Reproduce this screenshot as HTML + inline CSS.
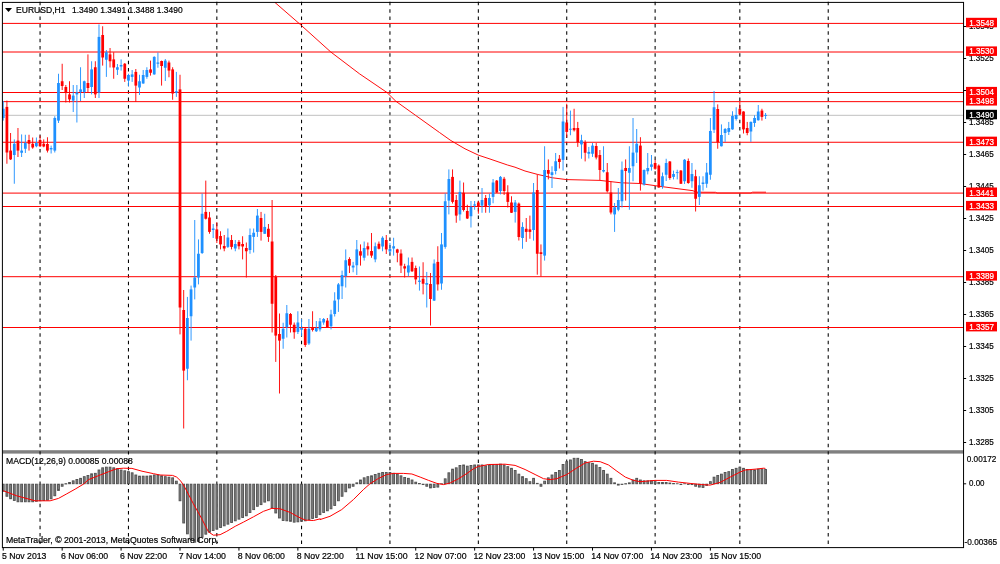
<!DOCTYPE html><html><head><meta charset="utf-8"><title>EURUSD,H1</title>
<style>html,body{margin:0;padding:0;background:#fff;overflow:hidden}svg{display:block}text{font-family:"Liberation Sans",sans-serif}</style></head><body>
<svg width="1000" height="564" viewBox="0 0 1000 564" style="will-change:transform">
<rect x="0" y="0" width="1000" height="564" fill="#fff"/>
<rect x="2.4" y="450.2" width="961.15" height="3.4" fill="#808080"/>
<g stroke="#000" stroke-width="1.05" stroke-dasharray="3.5 3.866" fill="none">
<path d="M40.06 1.8V454.6"/>
<path d="M40.06 459.43V547.6"/>
<path d="M128.45 1.8V454.6"/>
<path d="M128.45 459.43V547.6"/>
<path d="M216.84 1.8V454.6"/>
<path d="M216.84 459.43V547.6"/>
<path d="M301.55 1.8V454.6"/>
<path d="M301.55 459.43V547.6"/>
<path d="M389.94 1.8V454.6"/>
<path d="M389.94 459.43V547.6"/>
<path d="M478.34 1.8V454.6"/>
<path d="M478.34 459.43V547.6"/>
<path d="M566.73 1.8V454.6"/>
<path d="M566.73 459.43V547.6"/>
<path d="M655.12 1.8V454.6"/>
<path d="M655.12 459.43V547.6"/>
<path d="M739.83 1.8V454.6"/>
<path d="M739.83 459.43V547.6"/>
<path d="M828.22 1.8V454.6"/>
<path d="M828.22 459.43V547.6"/>
</g>
<path d="M2.4 115.3H963.55" stroke="#c0c0c0" stroke-width="1"/>
<g stroke="#ff0000" stroke-width="1">
<path d="M2.4 23.4H963.55"/>
<path d="M2.4 52.0H963.55"/>
<path d="M2.4 92.5H963.55"/>
<path d="M2.4 101.65H963.55"/>
<path d="M2.4 142.25H963.55"/>
<path d="M2.4 193.1H963.55"/>
<path d="M2.4 206.5H963.55"/>
<path d="M2.4 276.7H963.55"/>
<path d="M2.4 327.5H963.55"/>
</g>
<polyline fill="none" stroke="#ff0000" stroke-width="0.95" points="275.0,2.5 299.5,23.8 330.8,52.0 359.5,73.8 387.0,92.5 395.8,101.2 415.8,115.5 439.5,132.5 450.8,140.5 465.0,148.8 478.5,155.2 490.0,159.0 507.5,165.0 515.0,167.2 525.0,171.0 537.5,174.4 552.5,177.8 566.6,179.6 600.0,180.4 621.0,182.8 640.0,183.5 658.8,186.2 680.0,189.0 693.0,190.7 696.0,192.2 715.5,192.3 717.0,193.0 751.0,193.0 752.5,192.2 766.0,192.2"/>
<g fill="#1e90ff" stroke="none">
<rect x="2.77" y="101.00" width="0.92" height="19.60"/>
<rect x="1.85" y="108.75" width="2.76" height="9.25"/>
<rect x="13.82" y="139.40" width="0.92" height="44.35"/>
<rect x="12.90" y="143.75" width="2.76" height="11.25"/>
<rect x="21.18" y="134.40" width="0.92" height="22.60"/>
<rect x="20.26" y="150.60" width="2.76" height="2.15"/>
<rect x="24.87" y="134.75" width="0.92" height="18.25"/>
<rect x="23.95" y="143.00" width="2.76" height="5.75"/>
<rect x="35.92" y="137.50" width="0.92" height="9.75"/>
<rect x="35.00" y="143.00" width="2.76" height="3.25"/>
<rect x="50.65" y="145.60" width="0.92" height="7.90"/>
<rect x="49.73" y="148.00" width="2.76" height="1.40"/>
<rect x="54.33" y="116.25" width="0.92" height="36.25"/>
<rect x="53.41" y="118.00" width="2.76" height="32.60"/>
<rect x="58.01" y="73.75" width="0.92" height="49.25"/>
<rect x="57.09" y="83.00" width="2.76" height="37.60"/>
<rect x="72.75" y="85.00" width="0.92" height="27.00"/>
<rect x="71.83" y="95.60" width="2.76" height="5.00"/>
<rect x="76.43" y="85.00" width="0.92" height="37.50"/>
<rect x="75.51" y="92.50" width="2.76" height="1.90"/>
<rect x="80.11" y="67.25" width="0.92" height="33.75"/>
<rect x="79.19" y="89.40" width="2.76" height="2.50"/>
<rect x="83.80" y="80.60" width="0.92" height="17.40"/>
<rect x="82.87" y="81.25" width="2.76" height="10.75"/>
<rect x="91.16" y="61.25" width="0.92" height="33.15"/>
<rect x="90.24" y="69.40" width="2.76" height="17.60"/>
<rect x="98.53" y="24.40" width="0.92" height="73.60"/>
<rect x="97.61" y="36.90" width="2.76" height="55.60"/>
<rect x="105.89" y="50.00" width="0.92" height="26.90"/>
<rect x="104.97" y="52.25" width="2.76" height="7.50"/>
<rect x="116.94" y="64.00" width="0.92" height="11.00"/>
<rect x="116.02" y="67.25" width="2.76" height="2.50"/>
<rect x="120.63" y="59.40" width="0.92" height="11.20"/>
<rect x="119.70" y="65.00" width="2.76" height="1.50"/>
<rect x="127.99" y="73.75" width="0.92" height="12.50"/>
<rect x="127.07" y="75.00" width="2.76" height="5.60"/>
<rect x="131.67" y="70.00" width="0.92" height="11.90"/>
<rect x="130.75" y="74.40" width="2.76" height="2.50"/>
<rect x="139.04" y="74.75" width="0.92" height="20.25"/>
<rect x="138.12" y="81.25" width="2.76" height="6.25"/>
<rect x="142.72" y="70.00" width="0.92" height="13.75"/>
<rect x="141.80" y="75.00" width="2.76" height="8.50"/>
<rect x="146.41" y="67.25" width="0.92" height="11.50"/>
<rect x="145.49" y="70.00" width="2.76" height="6.90"/>
<rect x="153.77" y="56.25" width="0.92" height="18.50"/>
<rect x="152.85" y="56.90" width="2.76" height="17.50"/>
<rect x="157.46" y="52.50" width="0.92" height="15.25"/>
<rect x="156.53" y="62.50" width="2.76" height="1.25"/>
<rect x="164.82" y="59.00" width="0.92" height="22.00"/>
<rect x="163.90" y="60.60" width="2.76" height="7.15"/>
<rect x="175.87" y="71.90" width="0.92" height="25.00"/>
<rect x="174.95" y="91.25" width="2.76" height="1.50"/>
<rect x="186.92" y="296.90" width="0.92" height="83.35"/>
<rect x="186.00" y="318.00" width="2.76" height="50.75"/>
<rect x="190.60" y="285.60" width="0.92" height="55.00"/>
<rect x="189.68" y="289.40" width="2.76" height="26.85"/>
<rect x="194.29" y="220.00" width="0.92" height="79.40"/>
<rect x="193.36" y="277.50" width="2.76" height="10.00"/>
<rect x="197.97" y="239.40" width="0.92" height="45.00"/>
<rect x="197.05" y="253.75" width="2.76" height="23.75"/>
<rect x="201.65" y="193.50" width="0.92" height="60.50"/>
<rect x="200.73" y="213.75" width="2.76" height="39.25"/>
<rect x="212.70" y="224.00" width="0.92" height="14.00"/>
<rect x="211.78" y="228.50" width="2.76" height="1.50"/>
<rect x="227.43" y="228.50" width="0.92" height="19.50"/>
<rect x="226.51" y="237.50" width="2.76" height="9.40"/>
<rect x="234.80" y="240.00" width="0.92" height="11.25"/>
<rect x="233.88" y="244.00" width="2.76" height="4.50"/>
<rect x="249.53" y="228.50" width="0.92" height="25.25"/>
<rect x="248.61" y="235.00" width="2.76" height="15.00"/>
<rect x="253.21" y="228.50" width="0.92" height="24.00"/>
<rect x="252.29" y="232.75" width="2.76" height="4.15"/>
<rect x="256.90" y="209.00" width="0.92" height="27.90"/>
<rect x="255.98" y="215.60" width="2.76" height="16.30"/>
<rect x="264.26" y="213.75" width="0.92" height="20.25"/>
<rect x="263.34" y="226.90" width="2.76" height="6.85"/>
<rect x="282.68" y="322.75" width="0.92" height="26.00"/>
<rect x="281.76" y="328.75" width="2.76" height="10.00"/>
<rect x="286.36" y="305.00" width="0.92" height="32.50"/>
<rect x="285.44" y="313.25" width="2.76" height="13.95"/>
<rect x="297.41" y="311.25" width="0.92" height="22.75"/>
<rect x="296.49" y="322.50" width="2.76" height="9.40"/>
<rect x="301.09" y="319.00" width="0.92" height="17.25"/>
<rect x="300.17" y="328.00" width="2.76" height="1.75"/>
<rect x="308.46" y="319.00" width="0.92" height="26.00"/>
<rect x="307.54" y="328.75" width="2.76" height="14.75"/>
<rect x="315.82" y="321.00" width="0.92" height="11.00"/>
<rect x="314.90" y="328.00" width="2.76" height="3.25"/>
<rect x="319.51" y="318.00" width="0.92" height="13.50"/>
<rect x="318.59" y="321.25" width="2.76" height="8.15"/>
<rect x="323.19" y="318.00" width="0.92" height="6.75"/>
<rect x="322.27" y="319.00" width="2.76" height="3.50"/>
<rect x="330.56" y="309.75" width="0.92" height="19.65"/>
<rect x="329.64" y="314.40" width="2.76" height="11.85"/>
<rect x="334.24" y="292.25" width="0.92" height="24.25"/>
<rect x="333.32" y="300.60" width="2.76" height="13.40"/>
<rect x="337.92" y="283.00" width="0.92" height="28.90"/>
<rect x="337.00" y="284.40" width="2.76" height="15.00"/>
<rect x="341.61" y="270.60" width="0.92" height="28.40"/>
<rect x="340.68" y="275.00" width="2.76" height="11.25"/>
<rect x="345.29" y="249.40" width="0.92" height="38.10"/>
<rect x="344.37" y="260.25" width="2.76" height="15.75"/>
<rect x="352.65" y="261.90" width="0.92" height="10.35"/>
<rect x="351.73" y="265.60" width="2.76" height="1.90"/>
<rect x="356.34" y="240.00" width="0.92" height="35.00"/>
<rect x="355.42" y="249.40" width="2.76" height="15.85"/>
<rect x="363.70" y="241.50" width="0.92" height="19.10"/>
<rect x="362.78" y="248.00" width="2.76" height="9.75"/>
<rect x="374.75" y="242.50" width="0.92" height="19.75"/>
<rect x="373.83" y="246.25" width="2.76" height="13.15"/>
<rect x="382.12" y="236.25" width="0.92" height="15.00"/>
<rect x="381.20" y="237.75" width="2.76" height="8.75"/>
<rect x="389.48" y="243.00" width="0.92" height="11.40"/>
<rect x="388.56" y="249.00" width="2.76" height="2.50"/>
<rect x="393.17" y="237.75" width="0.92" height="17.85"/>
<rect x="392.25" y="246.25" width="2.76" height="2.25"/>
<rect x="407.90" y="257.50" width="0.92" height="18.75"/>
<rect x="406.98" y="265.40" width="2.76" height="7.10"/>
<rect x="418.95" y="266.50" width="0.92" height="24.10"/>
<rect x="418.03" y="280.60" width="2.76" height="1.30"/>
<rect x="426.31" y="271.90" width="0.92" height="35.60"/>
<rect x="425.39" y="283.00" width="2.76" height="1.75"/>
<rect x="433.68" y="259.40" width="0.92" height="41.60"/>
<rect x="432.76" y="263.50" width="2.76" height="37.10"/>
<rect x="441.05" y="233.00" width="0.92" height="56.75"/>
<rect x="440.13" y="244.40" width="2.76" height="39.10"/>
<rect x="444.73" y="193.40" width="0.92" height="55.35"/>
<rect x="443.81" y="201.25" width="2.76" height="45.65"/>
<rect x="448.41" y="169.40" width="0.92" height="45.00"/>
<rect x="447.49" y="179.00" width="2.76" height="21.60"/>
<rect x="459.46" y="180.60" width="0.92" height="40.00"/>
<rect x="458.54" y="191.90" width="2.76" height="22.50"/>
<rect x="470.51" y="201.00" width="0.92" height="26.50"/>
<rect x="469.59" y="206.90" width="2.76" height="9.35"/>
<rect x="474.19" y="201.00" width="0.92" height="8.75"/>
<rect x="473.27" y="204.40" width="2.76" height="1.20"/>
<rect x="481.56" y="188.00" width="0.92" height="24.75"/>
<rect x="480.64" y="200.00" width="2.76" height="5.60"/>
<rect x="488.93" y="193.75" width="0.92" height="19.00"/>
<rect x="488.00" y="198.00" width="2.76" height="7.25"/>
<rect x="492.61" y="179.00" width="0.92" height="24.25"/>
<rect x="491.69" y="182.50" width="2.76" height="14.40"/>
<rect x="499.97" y="176.00" width="0.92" height="18.40"/>
<rect x="499.05" y="176.90" width="2.76" height="14.10"/>
<rect x="514.71" y="200.00" width="0.92" height="22.60"/>
<rect x="513.79" y="202.50" width="2.76" height="9.40"/>
<rect x="522.07" y="222.25" width="0.92" height="26.50"/>
<rect x="521.15" y="226.90" width="2.76" height="11.10"/>
<rect x="533.12" y="183.00" width="0.92" height="57.60"/>
<rect x="532.20" y="192.50" width="2.76" height="37.50"/>
<rect x="544.17" y="146.25" width="0.92" height="114.35"/>
<rect x="543.25" y="170.00" width="2.76" height="85.60"/>
<rect x="551.54" y="166.25" width="0.92" height="21.75"/>
<rect x="550.62" y="172.25" width="2.76" height="2.75"/>
<rect x="555.22" y="153.00" width="0.92" height="21.40"/>
<rect x="554.30" y="161.25" width="2.76" height="9.75"/>
<rect x="562.59" y="106.90" width="0.92" height="63.70"/>
<rect x="561.66" y="121.50" width="2.76" height="38.40"/>
<rect x="569.95" y="110.60" width="0.92" height="24.65"/>
<rect x="569.03" y="128.75" width="2.76" height="1.00"/>
<rect x="581.00" y="134.75" width="0.92" height="24.00"/>
<rect x="580.08" y="140.25" width="2.76" height="4.15"/>
<rect x="588.37" y="146.90" width="0.92" height="11.60"/>
<rect x="587.45" y="151.90" width="2.76" height="1.85"/>
<rect x="592.05" y="143.00" width="0.92" height="13.90"/>
<rect x="591.13" y="145.60" width="2.76" height="8.15"/>
<rect x="603.10" y="146.25" width="0.92" height="26.25"/>
<rect x="602.18" y="170.00" width="2.76" height="1.50"/>
<rect x="614.15" y="203.00" width="0.92" height="28.90"/>
<rect x="613.23" y="207.25" width="2.76" height="7.15"/>
<rect x="617.83" y="188.00" width="0.92" height="23.25"/>
<rect x="616.91" y="200.00" width="2.76" height="9.75"/>
<rect x="621.51" y="161.50" width="0.92" height="46.00"/>
<rect x="620.59" y="169.75" width="2.76" height="31.50"/>
<rect x="628.88" y="146.25" width="0.92" height="63.50"/>
<rect x="627.96" y="168.00" width="2.76" height="4.75"/>
<rect x="632.56" y="118.00" width="0.92" height="63.25"/>
<rect x="631.64" y="152.60" width="2.76" height="13.65"/>
<rect x="636.25" y="129.00" width="0.92" height="34.00"/>
<rect x="635.32" y="143.75" width="2.76" height="8.75"/>
<rect x="643.61" y="169.40" width="0.92" height="16.20"/>
<rect x="642.69" y="170.00" width="2.76" height="14.40"/>
<rect x="647.29" y="153.00" width="0.92" height="21.40"/>
<rect x="646.37" y="168.00" width="2.76" height="3.25"/>
<rect x="650.98" y="155.00" width="0.92" height="15.60"/>
<rect x="650.06" y="164.40" width="2.76" height="2.50"/>
<rect x="662.03" y="172.50" width="0.92" height="16.25"/>
<rect x="661.11" y="176.25" width="2.76" height="10.00"/>
<rect x="665.71" y="158.75" width="0.92" height="22.25"/>
<rect x="664.79" y="163.00" width="2.76" height="11.75"/>
<rect x="673.08" y="170.60" width="0.92" height="8.80"/>
<rect x="672.15" y="174.00" width="2.76" height="2.90"/>
<rect x="676.76" y="169.75" width="0.92" height="9.65"/>
<rect x="675.84" y="172.16" width="2.76" height="0.92"/>
<rect x="684.12" y="159.00" width="0.92" height="25.00"/>
<rect x="683.20" y="159.75" width="2.76" height="21.50"/>
<rect x="691.49" y="163.00" width="0.92" height="24.75"/>
<rect x="690.57" y="174.00" width="2.76" height="7.25"/>
<rect x="698.86" y="176.25" width="0.92" height="28.75"/>
<rect x="697.94" y="185.25" width="2.76" height="11.65"/>
<rect x="702.54" y="176.25" width="0.92" height="14.35"/>
<rect x="701.62" y="182.50" width="2.76" height="1.50"/>
<rect x="706.22" y="163.00" width="0.92" height="24.75"/>
<rect x="705.30" y="172.50" width="2.76" height="11.25"/>
<rect x="709.91" y="118.00" width="0.92" height="61.75"/>
<rect x="708.98" y="131.00" width="2.76" height="43.75"/>
<rect x="713.59" y="91.00" width="0.92" height="42.00"/>
<rect x="712.67" y="107.25" width="2.76" height="22.50"/>
<rect x="720.95" y="124.40" width="0.92" height="22.10"/>
<rect x="720.03" y="135.00" width="2.76" height="11.25"/>
<rect x="724.64" y="128.00" width="0.92" height="13.90"/>
<rect x="723.72" y="129.00" width="2.76" height="4.00"/>
<rect x="728.32" y="121.90" width="0.92" height="13.10"/>
<rect x="727.40" y="128.00" width="2.76" height="3.90"/>
<rect x="732.00" y="111.25" width="0.92" height="18.50"/>
<rect x="731.08" y="116.00" width="2.76" height="13.40"/>
<rect x="735.69" y="107.25" width="0.92" height="13.35"/>
<rect x="734.77" y="115.00" width="2.76" height="4.00"/>
<rect x="750.42" y="121.50" width="0.92" height="20.40"/>
<rect x="749.50" y="121.90" width="2.76" height="9.60"/>
<rect x="754.10" y="115.25" width="0.92" height="11.65"/>
<rect x="753.18" y="118.00" width="2.76" height="5.00"/>
<rect x="757.78" y="105.00" width="0.92" height="15.60"/>
<rect x="756.86" y="111.50" width="2.76" height="8.75"/>
<rect x="765.15" y="113.00" width="0.92" height="6.00"/>
<rect x="764.23" y="114.94" width="2.76" height="0.92"/>
</g>
<g fill="#ff0000" stroke="none">
<rect x="6.45" y="100.60" width="0.92" height="63.15"/>
<rect x="5.53" y="106.90" width="2.76" height="45.60"/>
<rect x="10.14" y="133.00" width="0.92" height="27.00"/>
<rect x="9.21" y="150.60" width="2.76" height="8.80"/>
<rect x="17.50" y="128.00" width="0.92" height="29.00"/>
<rect x="16.58" y="140.60" width="2.76" height="10.00"/>
<rect x="28.55" y="134.75" width="0.92" height="15.85"/>
<rect x="27.63" y="140.00" width="2.76" height="3.75"/>
<rect x="32.23" y="137.50" width="0.92" height="11.25"/>
<rect x="31.31" y="143.75" width="2.76" height="3.75"/>
<rect x="39.60" y="135.60" width="0.92" height="11.40"/>
<rect x="38.68" y="140.00" width="2.76" height="6.25"/>
<rect x="43.28" y="139.40" width="0.92" height="7.85"/>
<rect x="42.36" y="143.75" width="2.76" height="2.75"/>
<rect x="46.97" y="137.25" width="0.92" height="15.25"/>
<rect x="46.04" y="144.00" width="2.76" height="6.60"/>
<rect x="61.70" y="63.75" width="0.92" height="26.25"/>
<rect x="60.78" y="81.25" width="2.76" height="4.75"/>
<rect x="65.38" y="85.00" width="0.92" height="17.50"/>
<rect x="64.46" y="87.00" width="2.76" height="6.00"/>
<rect x="69.06" y="81.25" width="0.92" height="21.25"/>
<rect x="68.14" y="94.40" width="2.76" height="5.00"/>
<rect x="87.48" y="54.40" width="0.92" height="37.60"/>
<rect x="86.56" y="83.00" width="2.76" height="5.00"/>
<rect x="94.84" y="61.25" width="0.92" height="36.75"/>
<rect x="93.92" y="67.25" width="2.76" height="27.15"/>
<rect x="102.21" y="26.25" width="0.92" height="39.35"/>
<rect x="101.29" y="35.00" width="2.76" height="22.50"/>
<rect x="109.58" y="48.00" width="0.92" height="19.50"/>
<rect x="108.66" y="54.40" width="2.76" height="6.85"/>
<rect x="113.26" y="52.25" width="0.92" height="26.50"/>
<rect x="112.34" y="59.40" width="2.76" height="8.10"/>
<rect x="124.31" y="63.00" width="0.92" height="18.90"/>
<rect x="123.39" y="63.75" width="2.76" height="15.00"/>
<rect x="135.36" y="69.00" width="0.92" height="32.90"/>
<rect x="134.44" y="71.90" width="2.76" height="13.70"/>
<rect x="150.09" y="60.60" width="0.92" height="15.00"/>
<rect x="149.17" y="69.40" width="2.76" height="3.35"/>
<rect x="161.14" y="60.60" width="0.92" height="25.00"/>
<rect x="160.22" y="61.00" width="2.76" height="5.00"/>
<rect x="168.50" y="60.60" width="0.92" height="16.65"/>
<rect x="167.58" y="62.50" width="2.76" height="8.10"/>
<rect x="172.19" y="67.25" width="0.92" height="32.50"/>
<rect x="171.27" y="69.40" width="2.76" height="24.10"/>
<rect x="179.55" y="74.75" width="0.92" height="259.65"/>
<rect x="178.63" y="89.40" width="2.76" height="218.10"/>
<rect x="183.24" y="290.00" width="0.92" height="138.50"/>
<rect x="182.32" y="310.00" width="2.76" height="60.60"/>
<rect x="205.33" y="180.60" width="0.92" height="38.90"/>
<rect x="204.41" y="211.90" width="2.76" height="6.85"/>
<rect x="209.02" y="211.90" width="0.92" height="21.85"/>
<rect x="208.10" y="217.50" width="2.76" height="14.40"/>
<rect x="216.38" y="222.25" width="0.92" height="20.75"/>
<rect x="215.46" y="229.40" width="2.76" height="9.35"/>
<rect x="220.07" y="231.25" width="0.92" height="18.15"/>
<rect x="219.15" y="236.00" width="2.76" height="8.40"/>
<rect x="223.75" y="235.00" width="0.92" height="16.25"/>
<rect x="222.83" y="246.00" width="2.76" height="2.50"/>
<rect x="231.12" y="235.00" width="0.92" height="14.40"/>
<rect x="230.19" y="240.00" width="2.76" height="6.90"/>
<rect x="238.48" y="240.00" width="0.92" height="9.40"/>
<rect x="237.56" y="241.90" width="2.76" height="4.35"/>
<rect x="242.16" y="236.25" width="0.92" height="23.15"/>
<rect x="241.24" y="244.00" width="2.76" height="2.50"/>
<rect x="245.85" y="242.50" width="0.92" height="35.00"/>
<rect x="244.93" y="248.00" width="2.76" height="3.25"/>
<rect x="260.58" y="211.90" width="0.92" height="28.70"/>
<rect x="259.66" y="218.00" width="2.76" height="13.90"/>
<rect x="267.95" y="224.00" width="0.92" height="17.90"/>
<rect x="267.02" y="228.75" width="2.76" height="8.15"/>
<rect x="271.63" y="200.00" width="0.92" height="132.50"/>
<rect x="270.71" y="241.50" width="2.76" height="62.25"/>
<rect x="275.31" y="275.00" width="0.92" height="86.90"/>
<rect x="274.39" y="276.90" width="2.76" height="58.70"/>
<rect x="278.99" y="313.50" width="0.92" height="80.00"/>
<rect x="278.07" y="334.00" width="2.76" height="6.60"/>
<rect x="290.04" y="313.00" width="0.92" height="19.50"/>
<rect x="289.12" y="314.00" width="2.76" height="10.75"/>
<rect x="293.73" y="322.50" width="0.92" height="16.25"/>
<rect x="292.81" y="324.75" width="2.76" height="7.50"/>
<rect x="304.78" y="328.00" width="0.92" height="18.90"/>
<rect x="303.85" y="328.75" width="2.76" height="16.25"/>
<rect x="312.14" y="311.25" width="0.92" height="20.25"/>
<rect x="311.22" y="327.50" width="2.76" height="2.50"/>
<rect x="326.87" y="318.00" width="0.92" height="9.50"/>
<rect x="325.95" y="320.60" width="2.76" height="6.65"/>
<rect x="348.97" y="257.25" width="0.92" height="15.75"/>
<rect x="348.05" y="259.00" width="2.76" height="6.60"/>
<rect x="360.02" y="244.40" width="0.92" height="21.20"/>
<rect x="359.10" y="251.25" width="2.76" height="4.35"/>
<rect x="367.39" y="242.50" width="0.92" height="13.10"/>
<rect x="366.47" y="246.25" width="2.76" height="3.15"/>
<rect x="371.07" y="233.00" width="0.92" height="24.75"/>
<rect x="370.15" y="251.00" width="2.76" height="4.60"/>
<rect x="378.44" y="241.50" width="0.92" height="7.90"/>
<rect x="377.51" y="243.75" width="2.76" height="5.00"/>
<rect x="385.80" y="235.00" width="0.92" height="19.00"/>
<rect x="384.88" y="240.00" width="2.76" height="9.40"/>
<rect x="396.85" y="248.75" width="0.92" height="13.50"/>
<rect x="395.93" y="249.40" width="2.76" height="3.35"/>
<rect x="400.53" y="249.40" width="0.92" height="23.60"/>
<rect x="399.61" y="253.50" width="2.76" height="12.10"/>
<rect x="404.22" y="263.75" width="0.92" height="13.75"/>
<rect x="403.30" y="266.25" width="2.76" height="2.25"/>
<rect x="411.58" y="257.50" width="0.92" height="14.50"/>
<rect x="410.66" y="261.90" width="2.76" height="9.35"/>
<rect x="415.27" y="265.60" width="0.92" height="18.80"/>
<rect x="414.34" y="268.00" width="2.76" height="11.40"/>
<rect x="422.63" y="262.25" width="0.92" height="32.15"/>
<rect x="421.71" y="278.75" width="2.76" height="5.00"/>
<rect x="430.00" y="273.00" width="0.92" height="52.50"/>
<rect x="429.08" y="284.00" width="2.76" height="15.00"/>
<rect x="437.36" y="246.25" width="0.92" height="44.35"/>
<rect x="436.44" y="261.90" width="2.76" height="22.50"/>
<rect x="452.10" y="169.40" width="0.92" height="34.10"/>
<rect x="451.17" y="176.90" width="2.76" height="25.00"/>
<rect x="455.78" y="195.00" width="0.92" height="27.75"/>
<rect x="454.86" y="200.00" width="2.76" height="15.60"/>
<rect x="463.14" y="182.50" width="0.92" height="29.00"/>
<rect x="462.22" y="192.75" width="2.76" height="17.25"/>
<rect x="466.83" y="204.75" width="0.92" height="14.25"/>
<rect x="465.91" y="211.00" width="2.76" height="7.50"/>
<rect x="477.88" y="201.00" width="0.92" height="12.75"/>
<rect x="476.96" y="202.50" width="2.76" height="4.40"/>
<rect x="485.24" y="195.00" width="0.92" height="17.75"/>
<rect x="484.32" y="198.00" width="2.76" height="8.00"/>
<rect x="496.29" y="180.00" width="0.92" height="13.00"/>
<rect x="495.37" y="180.60" width="2.76" height="11.90"/>
<rect x="503.66" y="176.90" width="0.92" height="18.10"/>
<rect x="502.74" y="178.75" width="2.76" height="12.25"/>
<rect x="507.34" y="185.25" width="0.92" height="22.25"/>
<rect x="506.42" y="192.50" width="2.76" height="9.40"/>
<rect x="511.02" y="196.25" width="0.92" height="16.75"/>
<rect x="510.10" y="202.50" width="2.76" height="10.25"/>
<rect x="518.39" y="202.50" width="0.92" height="38.00"/>
<rect x="517.47" y="203.60" width="2.76" height="33.40"/>
<rect x="525.76" y="218.00" width="0.92" height="23.90"/>
<rect x="524.83" y="228.75" width="2.76" height="3.15"/>
<rect x="529.44" y="215.60" width="0.92" height="23.15"/>
<rect x="528.52" y="229.40" width="2.76" height="2.50"/>
<rect x="536.80" y="174.40" width="0.92" height="100.30"/>
<rect x="535.88" y="190.00" width="2.76" height="63.75"/>
<rect x="540.49" y="244.40" width="0.92" height="32.10"/>
<rect x="539.57" y="252.25" width="2.76" height="1.75"/>
<rect x="547.85" y="159.40" width="0.92" height="20.00"/>
<rect x="546.93" y="170.00" width="2.76" height="3.75"/>
<rect x="558.90" y="155.00" width="0.92" height="13.50"/>
<rect x="557.98" y="158.75" width="2.76" height="3.25"/>
<rect x="566.27" y="103.75" width="0.92" height="33.75"/>
<rect x="565.35" y="122.50" width="2.76" height="9.40"/>
<rect x="573.63" y="108.75" width="0.92" height="22.75"/>
<rect x="572.71" y="128.00" width="2.76" height="2.25"/>
<rect x="577.32" y="121.90" width="0.92" height="25.00"/>
<rect x="576.40" y="128.00" width="2.76" height="14.25"/>
<rect x="584.68" y="140.25" width="0.92" height="21.15"/>
<rect x="583.76" y="142.25" width="2.76" height="10.50"/>
<rect x="595.73" y="143.00" width="0.92" height="16.40"/>
<rect x="594.81" y="146.00" width="2.76" height="11.50"/>
<rect x="599.42" y="150.00" width="0.92" height="30.00"/>
<rect x="598.49" y="155.00" width="2.76" height="15.00"/>
<rect x="606.78" y="163.00" width="0.92" height="29.50"/>
<rect x="605.86" y="172.25" width="2.76" height="19.00"/>
<rect x="610.46" y="181.25" width="0.92" height="33.15"/>
<rect x="609.54" y="192.50" width="2.76" height="20.00"/>
<rect x="625.20" y="159.40" width="0.92" height="41.20"/>
<rect x="624.28" y="168.00" width="2.76" height="3.00"/>
<rect x="639.93" y="137.20" width="0.92" height="53.40"/>
<rect x="639.01" y="145.60" width="2.76" height="37.90"/>
<rect x="654.66" y="159.75" width="0.92" height="10.00"/>
<rect x="653.74" y="163.00" width="2.76" height="5.75"/>
<rect x="658.34" y="164.40" width="0.92" height="23.35"/>
<rect x="657.42" y="165.60" width="2.76" height="21.90"/>
<rect x="669.39" y="161.00" width="0.92" height="18.75"/>
<rect x="668.47" y="161.50" width="2.76" height="16.50"/>
<rect x="680.44" y="170.00" width="0.92" height="14.00"/>
<rect x="679.52" y="170.60" width="2.76" height="13.15"/>
<rect x="687.81" y="158.50" width="0.92" height="25.25"/>
<rect x="686.89" y="161.00" width="2.76" height="22.00"/>
<rect x="695.17" y="169.75" width="0.92" height="41.75"/>
<rect x="694.25" y="176.25" width="2.76" height="22.50"/>
<rect x="717.27" y="104.40" width="0.92" height="44.35"/>
<rect x="716.35" y="109.00" width="2.76" height="33.25"/>
<rect x="739.37" y="101.90" width="0.92" height="12.85"/>
<rect x="738.45" y="108.75" width="2.76" height="5.65"/>
<rect x="743.05" y="111.25" width="0.92" height="22.25"/>
<rect x="742.13" y="111.50" width="2.76" height="17.90"/>
<rect x="746.74" y="121.90" width="0.92" height="13.35"/>
<rect x="745.81" y="128.00" width="2.76" height="5.00"/>
<rect x="761.47" y="108.75" width="0.92" height="11.85"/>
<rect x="760.55" y="110.60" width="2.76" height="6.30"/>
</g>
<g fill="#808080" stroke="#505050" stroke-width="0.92">
<rect x="2.31" y="484.19" width="1.84" height="7.06"/>
<rect x="5.99" y="484.19" width="1.84" height="12.07"/>
<rect x="9.68" y="484.19" width="1.84" height="14.57"/>
<rect x="13.36" y="484.19" width="1.84" height="16.24"/>
<rect x="17.04" y="484.19" width="1.84" height="17.58"/>
<rect x="20.72" y="484.19" width="1.84" height="17.58"/>
<rect x="24.41" y="484.19" width="1.84" height="17.58"/>
<rect x="28.09" y="484.19" width="1.84" height="17.58"/>
<rect x="31.77" y="484.19" width="1.84" height="17.58"/>
<rect x="35.46" y="484.19" width="1.84" height="17.08"/>
<rect x="39.14" y="484.19" width="1.84" height="16.57"/>
<rect x="42.82" y="484.19" width="1.84" height="16.24"/>
<rect x="46.51" y="484.19" width="1.84" height="15.91"/>
<rect x="50.19" y="484.19" width="1.84" height="14.57"/>
<rect x="53.87" y="484.19" width="1.84" height="11.56"/>
<rect x="57.55" y="484.19" width="1.84" height="6.22"/>
<rect x="61.24" y="484.19" width="1.84" height="2.05"/>
<rect x="64.92" y="483.69" width="1.84" height="0.30"/>
<rect x="68.60" y="482.52" width="1.84" height="1.21"/>
<rect x="72.29" y="480.85" width="1.84" height="2.88"/>
<rect x="75.97" y="479.51" width="1.84" height="4.22"/>
<rect x="79.65" y="478.35" width="1.84" height="5.39"/>
<rect x="83.34" y="476.68" width="1.84" height="7.06"/>
<rect x="87.02" y="475.51" width="1.84" height="8.22"/>
<rect x="90.70" y="473.84" width="1.84" height="9.89"/>
<rect x="94.38" y="473.34" width="1.84" height="10.40"/>
<rect x="98.07" y="470.00" width="1.84" height="13.74"/>
<rect x="101.75" y="467.82" width="1.84" height="15.91"/>
<rect x="105.43" y="467.16" width="1.84" height="16.57"/>
<rect x="109.12" y="467.16" width="1.84" height="16.57"/>
<rect x="112.80" y="467.82" width="1.84" height="15.91"/>
<rect x="116.48" y="468.83" width="1.84" height="14.90"/>
<rect x="120.17" y="470.00" width="1.84" height="13.74"/>
<rect x="123.85" y="470.83" width="1.84" height="12.90"/>
<rect x="127.53" y="471.67" width="1.84" height="12.07"/>
<rect x="131.22" y="472.83" width="1.84" height="10.90"/>
<rect x="134.90" y="475.01" width="1.84" height="8.73"/>
<rect x="138.58" y="476.17" width="1.84" height="7.56"/>
<rect x="142.26" y="476.17" width="1.84" height="7.56"/>
<rect x="145.95" y="476.17" width="1.84" height="7.56"/>
<rect x="149.63" y="475.84" width="1.84" height="7.89"/>
<rect x="153.31" y="475.01" width="1.84" height="8.73"/>
<rect x="157.00" y="475.01" width="1.84" height="8.73"/>
<rect x="160.68" y="475.84" width="1.84" height="7.89"/>
<rect x="164.36" y="476.68" width="1.84" height="7.06"/>
<rect x="168.04" y="477.18" width="1.84" height="6.55"/>
<rect x="171.73" y="477.84" width="1.84" height="5.89"/>
<rect x="175.41" y="481.18" width="1.84" height="2.55"/>
<rect x="179.09" y="484.19" width="1.84" height="16.57"/>
<rect x="182.78" y="484.19" width="1.84" height="38.79"/>
<rect x="186.46" y="484.19" width="1.84" height="49.64"/>
<rect x="190.14" y="484.19" width="1.84" height="55.49"/>
<rect x="193.83" y="484.19" width="1.84" height="57.99"/>
<rect x="197.51" y="484.19" width="1.84" height="57.16"/>
<rect x="201.19" y="484.19" width="1.84" height="52.98"/>
<rect x="204.88" y="484.19" width="1.84" height="49.97"/>
<rect x="208.56" y="484.19" width="1.84" height="47.97"/>
<rect x="212.24" y="484.19" width="1.84" height="46.30"/>
<rect x="215.92" y="484.19" width="1.84" height="44.96"/>
<rect x="219.61" y="484.19" width="1.84" height="43.29"/>
<rect x="223.29" y="484.19" width="1.84" height="41.62"/>
<rect x="226.97" y="484.19" width="1.84" height="39.95"/>
<rect x="230.66" y="484.19" width="1.84" height="38.28"/>
<rect x="234.34" y="484.19" width="1.84" height="36.61"/>
<rect x="238.02" y="484.19" width="1.84" height="34.94"/>
<rect x="241.70" y="484.19" width="1.84" height="33.27"/>
<rect x="245.39" y="484.19" width="1.84" height="31.60"/>
<rect x="249.07" y="484.19" width="1.84" height="28.26"/>
<rect x="252.75" y="484.19" width="1.84" height="25.43"/>
<rect x="256.44" y="484.19" width="1.84" height="22.09"/>
<rect x="260.12" y="484.19" width="1.84" height="20.42"/>
<rect x="263.80" y="484.19" width="1.84" height="17.91"/>
<rect x="267.49" y="484.19" width="1.84" height="16.57"/>
<rect x="271.17" y="484.19" width="1.84" height="23.76"/>
<rect x="274.85" y="484.19" width="1.84" height="28.77"/>
<rect x="278.53" y="484.19" width="1.84" height="33.78"/>
<rect x="282.22" y="484.19" width="1.84" height="36.28"/>
<rect x="285.90" y="484.19" width="1.84" height="36.61"/>
<rect x="289.58" y="484.19" width="1.84" height="37.12"/>
<rect x="293.27" y="484.19" width="1.84" height="37.95"/>
<rect x="296.95" y="484.19" width="1.84" height="37.62"/>
<rect x="300.63" y="484.19" width="1.84" height="37.12"/>
<rect x="304.32" y="484.19" width="1.84" height="36.61"/>
<rect x="308.00" y="484.19" width="1.84" height="35.45"/>
<rect x="311.68" y="484.19" width="1.84" height="34.28"/>
<rect x="315.37" y="484.19" width="1.84" height="33.27"/>
<rect x="319.05" y="484.19" width="1.84" height="30.44"/>
<rect x="322.73" y="484.19" width="1.84" height="28.26"/>
<rect x="326.41" y="484.19" width="1.84" height="26.59"/>
<rect x="330.10" y="484.19" width="1.84" height="24.59"/>
<rect x="333.78" y="484.19" width="1.84" height="21.25"/>
<rect x="337.46" y="484.19" width="1.84" height="16.57"/>
<rect x="341.15" y="484.19" width="1.84" height="12.07"/>
<rect x="344.83" y="484.19" width="1.84" height="7.56"/>
<rect x="348.51" y="484.19" width="1.84" height="3.72"/>
<rect x="352.19" y="484.19" width="1.84" height="2.05"/>
<rect x="355.88" y="482.85" width="1.84" height="0.88"/>
<rect x="359.56" y="480.02" width="1.84" height="3.72"/>
<rect x="363.24" y="477.84" width="1.84" height="5.89"/>
<rect x="366.93" y="476.68" width="1.84" height="7.06"/>
<rect x="370.61" y="475.84" width="1.84" height="7.89"/>
<rect x="374.29" y="474.50" width="1.84" height="9.23"/>
<rect x="377.98" y="473.34" width="1.84" height="10.40"/>
<rect x="381.66" y="472.50" width="1.84" height="11.23"/>
<rect x="385.34" y="472.50" width="1.84" height="11.23"/>
<rect x="389.02" y="472.50" width="1.84" height="11.23"/>
<rect x="392.71" y="473.34" width="1.84" height="10.40"/>
<rect x="396.39" y="474.17" width="1.84" height="9.56"/>
<rect x="400.07" y="475.84" width="1.84" height="7.89"/>
<rect x="403.76" y="477.51" width="1.84" height="6.22"/>
<rect x="407.44" y="478.35" width="1.84" height="5.39"/>
<rect x="411.12" y="480.02" width="1.84" height="3.72"/>
<rect x="414.81" y="482.19" width="1.84" height="1.54"/>
<rect x="418.49" y="483.52" width="1.84" height="0.30"/>
<rect x="422.17" y="484.19" width="1.84" height="0.38"/>
<rect x="425.85" y="484.19" width="1.84" height="2.05"/>
<rect x="429.54" y="484.19" width="1.84" height="3.72"/>
<rect x="433.22" y="484.19" width="1.84" height="3.21"/>
<rect x="436.90" y="484.19" width="1.84" height="2.88"/>
<path d="M440.13 483.73h2.76" fill="none"/>
<rect x="444.27" y="478.85" width="1.84" height="4.88"/>
<rect x="447.95" y="472.83" width="1.84" height="10.90"/>
<rect x="451.64" y="469.16" width="1.84" height="14.57"/>
<rect x="455.32" y="467.82" width="1.84" height="15.91"/>
<rect x="459.00" y="465.49" width="1.84" height="18.24"/>
<rect x="462.69" y="464.99" width="1.84" height="18.75"/>
<rect x="466.37" y="466.15" width="1.84" height="17.58"/>
<rect x="470.05" y="465.49" width="1.84" height="18.24"/>
<rect x="473.73" y="464.99" width="1.84" height="18.75"/>
<rect x="477.42" y="464.99" width="1.84" height="18.75"/>
<rect x="481.10" y="464.99" width="1.84" height="18.75"/>
<rect x="484.78" y="465.82" width="1.84" height="17.91"/>
<rect x="488.47" y="464.99" width="1.84" height="18.75"/>
<rect x="492.15" y="464.48" width="1.84" height="19.25"/>
<rect x="495.83" y="464.48" width="1.84" height="19.25"/>
<rect x="499.51" y="464.15" width="1.84" height="19.58"/>
<rect x="503.20" y="464.99" width="1.84" height="18.75"/>
<rect x="506.88" y="466.66" width="1.84" height="17.08"/>
<rect x="510.56" y="468.33" width="1.84" height="15.41"/>
<rect x="514.25" y="470.50" width="1.84" height="13.23"/>
<rect x="517.93" y="474.17" width="1.84" height="9.56"/>
<rect x="521.61" y="476.68" width="1.84" height="7.06"/>
<rect x="525.30" y="478.68" width="1.84" height="5.05"/>
<rect x="528.98" y="481.69" width="1.84" height="2.05"/>
<rect x="532.66" y="478.35" width="1.84" height="5.39"/>
<rect x="536.35" y="483.36" width="1.84" height="0.38"/>
<rect x="540.03" y="484.19" width="1.84" height="2.05"/>
<rect x="543.71" y="481.18" width="1.84" height="2.55"/>
<rect x="547.39" y="477.84" width="1.84" height="5.89"/>
<rect x="551.08" y="475.01" width="1.84" height="8.73"/>
<rect x="554.76" y="472.50" width="1.84" height="11.23"/>
<rect x="558.44" y="470.50" width="1.84" height="13.23"/>
<rect x="562.13" y="464.48" width="1.84" height="19.25"/>
<rect x="565.81" y="461.65" width="1.84" height="22.09"/>
<rect x="569.49" y="459.98" width="1.84" height="23.76"/>
<rect x="573.18" y="458.31" width="1.84" height="25.43"/>
<rect x="576.86" y="458.31" width="1.84" height="25.43"/>
<rect x="580.54" y="459.47" width="1.84" height="24.26"/>
<rect x="584.22" y="461.65" width="1.84" height="22.09"/>
<rect x="587.91" y="462.81" width="1.84" height="20.92"/>
<rect x="591.59" y="463.32" width="1.84" height="20.42"/>
<rect x="595.27" y="464.99" width="1.84" height="18.75"/>
<rect x="598.96" y="467.49" width="1.84" height="16.24"/>
<rect x="602.64" y="470.50" width="1.84" height="13.23"/>
<rect x="606.32" y="474.17" width="1.84" height="9.56"/>
<rect x="610.00" y="478.35" width="1.84" height="5.39"/>
<rect x="613.69" y="482.85" width="1.84" height="0.88"/>
<rect x="617.37" y="484.19" width="1.84" height="0.88"/>
<rect x="621.05" y="484.19" width="1.84" height="0.30"/>
<rect x="624.74" y="483.69" width="1.84" height="0.30"/>
<rect x="628.42" y="482.85" width="1.84" height="0.88"/>
<rect x="632.10" y="480.02" width="1.84" height="3.72"/>
<rect x="635.79" y="478.35" width="1.84" height="5.39"/>
<rect x="639.47" y="480.02" width="1.84" height="3.72"/>
<rect x="643.15" y="480.85" width="1.84" height="2.88"/>
<rect x="646.84" y="480.85" width="1.84" height="2.88"/>
<rect x="650.52" y="480.85" width="1.84" height="2.88"/>
<rect x="654.20" y="481.69" width="1.84" height="2.05"/>
<rect x="657.88" y="482.52" width="1.84" height="1.21"/>
<rect x="661.57" y="482.52" width="1.84" height="1.21"/>
<rect x="665.25" y="482.52" width="1.84" height="1.21"/>
<rect x="668.93" y="483.02" width="1.84" height="0.71"/>
<rect x="672.62" y="483.52" width="1.84" height="0.30"/>
<path d="M675.84 483.73h2.76" fill="none"/>
<rect x="679.98" y="484.19" width="1.84" height="0.38"/>
<path d="M683.21 483.73h2.76" fill="none"/>
<rect x="687.35" y="484.19" width="1.84" height="0.30"/>
<rect x="691.03" y="484.19" width="1.84" height="0.38"/>
<rect x="694.71" y="484.19" width="1.84" height="2.05"/>
<rect x="698.40" y="484.19" width="1.84" height="2.88"/>
<rect x="702.08" y="484.19" width="1.84" height="3.21"/>
<rect x="705.76" y="484.19" width="1.84" height="1.21"/>
<rect x="709.45" y="481.69" width="1.84" height="2.05"/>
<rect x="713.13" y="477.18" width="1.84" height="6.55"/>
<rect x="716.81" y="475.51" width="1.84" height="8.22"/>
<rect x="720.50" y="474.17" width="1.84" height="9.56"/>
<rect x="724.18" y="472.50" width="1.84" height="11.23"/>
<rect x="727.86" y="471.67" width="1.84" height="12.07"/>
<rect x="731.54" y="469.49" width="1.84" height="14.24"/>
<rect x="735.23" y="468.33" width="1.84" height="15.41"/>
<rect x="738.91" y="467.16" width="1.84" height="16.57"/>
<rect x="742.59" y="468.33" width="1.84" height="15.41"/>
<rect x="746.28" y="469.49" width="1.84" height="14.24"/>
<rect x="749.96" y="470.00" width="1.84" height="13.74"/>
<rect x="753.64" y="470.00" width="1.84" height="13.74"/>
<rect x="757.33" y="469.16" width="1.84" height="14.57"/>
<rect x="761.01" y="468.83" width="1.84" height="14.90"/>
<rect x="764.69" y="469.49" width="1.84" height="14.24"/>
</g>
<polyline fill="none" stroke="#ff0000" stroke-width="1" points="3.2,490.7 16.7,495.8 35.1,500.8 50.1,500.8 58.5,498.4 66.8,493.8 75.2,489.1 83.5,484.1 88.5,479.6 100.2,475.0 108.6,471.7 116.9,468.7 123.6,468.2 131.9,468.4 142.0,471.2 153.6,473.7 160.0,475.0 172.5,475.4 176.7,477.1 180.9,481.2 185.1,487.9 193.4,503.8 201.8,518.8 208.4,531.8 213.4,535.2 220.1,534.7 226.8,531.3 235.2,526.3 243.5,522.1 253.5,516.8 263.5,511.3 271.9,508.4 280.2,508.8 290.3,512.5 298.6,517.1 305.3,520.1 313.6,520.5 320.3,518.8 320.0,519.6 330.0,516.3 341.7,509.6 353.4,499.6 363.4,489.6 370.1,483.7 378.5,478.4 386.8,474.5 393.5,473.4 403.5,473.4 411.9,474.0 420.2,477.1 428.6,480.4 436.9,483.4 443.6,484.6 450.3,482.9 458.6,478.7 467.0,473.4 473.6,468.7 478.7,466.2 480.0,466.2 488.4,464.5 505.1,464.2 515.1,465.4 525.1,469.5 535.1,474.5 543.5,478.7 550.1,479.6 556.8,478.7 566.8,474.5 576.9,467.9 585.2,462.9 593.6,461.2 600.2,461.7 608.6,465.0 616.9,471.2 625.3,477.1 633.6,480.4 640.3,481.7 640.0,481.7 655.0,480.4 666.7,480.4 678.4,482.1 690.1,483.4 701.8,484.6 710.1,485.1 720.2,482.4 730.2,477.1 740.2,472.0 745.2,470.0 756.9,469.0 763.6,468.2 765.4,468.4"/>
<rect x="0" y="0" width="1.9" height="564" fill="#fff"/>
<rect x="2.4" y="2.4" width="961.15" height="545.2" fill="none" stroke="#000" stroke-width="1"/>
<g stroke="#000" stroke-width="1">
<path d="M963.55 26.5h2.6"/>
<path d="M963.55 58.5h2.6"/>
<path d="M963.55 90.5h2.6"/>
<path d="M963.55 122.5h2.6"/>
<path d="M963.55 154.5h2.6"/>
<path d="M963.55 186.5h2.6"/>
<path d="M963.55 218.5h2.6"/>
<path d="M963.55 250.5h2.6"/>
<path d="M963.55 282.5h2.6"/>
<path d="M963.55 314.5h2.6"/>
<path d="M963.55 346.5h2.6"/>
<path d="M963.55 378.5h2.6"/>
<path d="M963.55 410.5h2.6"/>
<path d="M963.55 442.5h2.6"/>
<path d="M963.55 483.8h2.6"/>
</g>
<g opacity="0.999"><text x="969" y="29.00" font-size="9.6" fill="#000" stroke="#000" stroke-width="0.22" textLength="24.7" lengthAdjust="spacingAndGlyphs">1.3545</text></g>
<g opacity="0.999"><text x="969" y="61.00" font-size="9.6" fill="#000" stroke="#000" stroke-width="0.22" textLength="24.7" lengthAdjust="spacingAndGlyphs">1.3525</text></g>
<g opacity="0.999"><text x="969" y="93.00" font-size="9.6" fill="#000" stroke="#000" stroke-width="0.22" textLength="24.7" lengthAdjust="spacingAndGlyphs">1.3505</text></g>
<g opacity="0.999"><text x="969" y="125.00" font-size="9.6" fill="#000" stroke="#000" stroke-width="0.22" textLength="24.7" lengthAdjust="spacingAndGlyphs">1.3485</text></g>
<g opacity="0.999"><text x="969" y="157.00" font-size="9.6" fill="#000" stroke="#000" stroke-width="0.22" textLength="24.7" lengthAdjust="spacingAndGlyphs">1.3465</text></g>
<g opacity="0.999"><text x="969" y="189.00" font-size="9.6" fill="#000" stroke="#000" stroke-width="0.22" textLength="24.7" lengthAdjust="spacingAndGlyphs">1.3445</text></g>
<g opacity="0.999"><text x="969" y="221.00" font-size="9.6" fill="#000" stroke="#000" stroke-width="0.22" textLength="24.7" lengthAdjust="spacingAndGlyphs">1.3425</text></g>
<g opacity="0.999"><text x="969" y="253.00" font-size="9.6" fill="#000" stroke="#000" stroke-width="0.22" textLength="24.7" lengthAdjust="spacingAndGlyphs">1.3405</text></g>
<g opacity="0.999"><text x="969" y="285.00" font-size="9.6" fill="#000" stroke="#000" stroke-width="0.22" textLength="24.7" lengthAdjust="spacingAndGlyphs">1.3385</text></g>
<g opacity="0.999"><text x="969" y="317.00" font-size="9.6" fill="#000" stroke="#000" stroke-width="0.22" textLength="24.7" lengthAdjust="spacingAndGlyphs">1.3365</text></g>
<g opacity="0.999"><text x="969" y="349.00" font-size="9.6" fill="#000" stroke="#000" stroke-width="0.22" textLength="24.7" lengthAdjust="spacingAndGlyphs">1.3345</text></g>
<g opacity="0.999"><text x="969" y="381.00" font-size="9.6" fill="#000" stroke="#000" stroke-width="0.22" textLength="24.7" lengthAdjust="spacingAndGlyphs">1.3325</text></g>
<g opacity="0.999"><text x="969" y="413.00" font-size="9.6" fill="#000" stroke="#000" stroke-width="0.22" textLength="24.7" lengthAdjust="spacingAndGlyphs">1.3305</text></g>
<g opacity="0.999"><text x="969" y="445.00" font-size="9.6" fill="#000" stroke="#000" stroke-width="0.22" textLength="24.7" lengthAdjust="spacingAndGlyphs">1.3285</text></g>
<g opacity="0.999"><text x="966.8" y="462.30" font-size="9.6" fill="#000" stroke="#000" stroke-width="0.22" textLength="29.6" lengthAdjust="spacingAndGlyphs">0.00172</text></g>
<g opacity="0.999"><text x="969" y="486.30" font-size="9.6" fill="#000" stroke="#000" stroke-width="0.22" textLength="15.5" lengthAdjust="spacingAndGlyphs">0.00</text></g>
<g opacity="0.999"><text x="964.5" y="544.60" font-size="9.6" fill="#000" stroke="#000" stroke-width="0.22" textLength="32.6" lengthAdjust="spacingAndGlyphs">-0.00365</text></g>
<rect x="966" y="17.80" width="31" height="9.5" fill="#ff0000"/>
<g opacity="0.999"><text x="969.25" y="25.80" font-size="9.6" fill="#fff" stroke="#fff" stroke-width="0.22" textLength="24.75" lengthAdjust="spacingAndGlyphs">1.3548</text></g>
<rect x="966" y="46.40" width="31" height="9.5" fill="#ff0000"/>
<g opacity="0.999"><text x="969.25" y="54.40" font-size="9.6" fill="#fff" stroke="#fff" stroke-width="0.22" textLength="24.75" lengthAdjust="spacingAndGlyphs">1.3530</text></g>
<rect x="966" y="86.90" width="31" height="9.5" fill="#ff0000"/>
<g opacity="0.999"><text x="969.25" y="94.90" font-size="9.6" fill="#fff" stroke="#fff" stroke-width="0.22" textLength="24.75" lengthAdjust="spacingAndGlyphs">1.3504</text></g>
<rect x="966" y="96.05" width="31" height="9.5" fill="#ff0000"/>
<g opacity="0.999"><text x="969.25" y="104.05" font-size="9.6" fill="#fff" stroke="#fff" stroke-width="0.22" textLength="24.75" lengthAdjust="spacingAndGlyphs">1.3498</text></g>
<rect x="966" y="136.65" width="31" height="9.5" fill="#ff0000"/>
<g opacity="0.999"><text x="969.25" y="144.65" font-size="9.6" fill="#fff" stroke="#fff" stroke-width="0.22" textLength="24.75" lengthAdjust="spacingAndGlyphs">1.3473</text></g>
<rect x="966" y="187.50" width="31" height="9.5" fill="#ff0000"/>
<g opacity="0.999"><text x="969.25" y="195.50" font-size="9.6" fill="#fff" stroke="#fff" stroke-width="0.22" textLength="24.75" lengthAdjust="spacingAndGlyphs">1.3441</text></g>
<rect x="966" y="200.90" width="31" height="9.5" fill="#ff0000"/>
<g opacity="0.999"><text x="969.25" y="208.90" font-size="9.6" fill="#fff" stroke="#fff" stroke-width="0.22" textLength="24.75" lengthAdjust="spacingAndGlyphs">1.3433</text></g>
<rect x="966" y="271.10" width="31" height="9.5" fill="#ff0000"/>
<g opacity="0.999"><text x="969.25" y="279.10" font-size="9.6" fill="#fff" stroke="#fff" stroke-width="0.22" textLength="24.75" lengthAdjust="spacingAndGlyphs">1.3389</text></g>
<rect x="966" y="321.90" width="31" height="9.5" fill="#ff0000"/>
<g opacity="0.999"><text x="969.25" y="329.90" font-size="9.6" fill="#fff" stroke="#fff" stroke-width="0.22" textLength="24.75" lengthAdjust="spacingAndGlyphs">1.3357</text></g>
<rect x="966" y="109.80" width="31" height="9.5" fill="#000"/>
<g opacity="0.999"><text x="969.25" y="117.70" font-size="9.6" fill="#fff" stroke="#fff" stroke-width="0.22" textLength="24.75" lengthAdjust="spacingAndGlyphs">1.3490</text></g>
<path d="M5 8H12L8.5 12Z" fill="#000"/>
<g opacity="0.999"><text x="16" y="12.75" font-size="9.6" fill="#000" stroke="#000" stroke-width="0.22" textLength="49.6" lengthAdjust="spacingAndGlyphs">EURUSD,H1</text></g>
<g opacity="0.999"><text x="72" y="12.75" font-size="9.6" fill="#000" stroke="#000" stroke-width="0.22" textLength="110.6" lengthAdjust="spacingAndGlyphs">1.3490 1.3491 1.3488 1.3490</text></g>
<g opacity="0.999"><text x="6" y="464.00" font-size="9.6" fill="#000" stroke="#000" stroke-width="0.22" textLength="126.8" lengthAdjust="spacingAndGlyphs">MACD(12,26,9) 0.00085 0.00088</text></g>
<g opacity="0.999"><text x="6" y="542.80" font-size="9.6" fill="#000" stroke="#000" stroke-width="0.22" textLength="212.7" lengthAdjust="spacingAndGlyphs">MetaTrader, © 2001-2013, MetaQuotes Software Corp.</text></g>
<g stroke="#000" stroke-width="1">
<path d="M3.23 547.6v3"/>
<path d="M62.16 547.6v3"/>
<path d="M121.09 547.6v3"/>
<path d="M180.01 547.6v3"/>
<path d="M238.94 547.6v3"/>
<path d="M297.87 547.6v3"/>
<path d="M356.80 547.6v3"/>
<path d="M415.73 547.6v3"/>
<path d="M474.65 547.6v3"/>
<path d="M533.58 547.6v3"/>
<path d="M592.51 547.6v3"/>
<path d="M651.44 547.6v3"/>
<path d="M710.37 547.6v3"/>
</g>
<g opacity="0.999"><text x="2.03" y="559.20" font-size="9.6" fill="#000" stroke="#000" stroke-width="0.22" textLength="44.4" lengthAdjust="spacingAndGlyphs">5 Nov 2013</text></g>
<g opacity="0.999"><text x="60.96" y="559.20" font-size="9.6" fill="#000" stroke="#000" stroke-width="0.22" textLength="47.2" lengthAdjust="spacingAndGlyphs">6 Nov 06:00</text></g>
<g opacity="0.999"><text x="119.89" y="559.20" font-size="9.6" fill="#000" stroke="#000" stroke-width="0.22" textLength="47.2" lengthAdjust="spacingAndGlyphs">6 Nov 22:00</text></g>
<g opacity="0.999"><text x="178.81" y="559.20" font-size="9.6" fill="#000" stroke="#000" stroke-width="0.22" textLength="47.2" lengthAdjust="spacingAndGlyphs">7 Nov 14:00</text></g>
<g opacity="0.999"><text x="237.74" y="559.20" font-size="9.6" fill="#000" stroke="#000" stroke-width="0.22" textLength="47.2" lengthAdjust="spacingAndGlyphs">8 Nov 06:00</text></g>
<g opacity="0.999"><text x="296.67" y="559.20" font-size="9.6" fill="#000" stroke="#000" stroke-width="0.22" textLength="47.2" lengthAdjust="spacingAndGlyphs">8 Nov 22:00</text></g>
<g opacity="0.999"><text x="355.6" y="559.20" font-size="9.6" fill="#000" stroke="#000" stroke-width="0.22" textLength="52.0" lengthAdjust="spacingAndGlyphs">11 Nov 15:00</text></g>
<g opacity="0.999"><text x="414.53" y="559.20" font-size="9.6" fill="#000" stroke="#000" stroke-width="0.22" textLength="52.0" lengthAdjust="spacingAndGlyphs">12 Nov 07:00</text></g>
<g opacity="0.999"><text x="473.45" y="559.20" font-size="9.6" fill="#000" stroke="#000" stroke-width="0.22" textLength="52.0" lengthAdjust="spacingAndGlyphs">12 Nov 23:00</text></g>
<g opacity="0.999"><text x="532.38" y="559.20" font-size="9.6" fill="#000" stroke="#000" stroke-width="0.22" textLength="52.0" lengthAdjust="spacingAndGlyphs">13 Nov 15:00</text></g>
<g opacity="0.999"><text x="591.31" y="559.20" font-size="9.6" fill="#000" stroke="#000" stroke-width="0.22" textLength="52.0" lengthAdjust="spacingAndGlyphs">14 Nov 07:00</text></g>
<g opacity="0.999"><text x="650.24" y="559.20" font-size="9.6" fill="#000" stroke="#000" stroke-width="0.22" textLength="52.0" lengthAdjust="spacingAndGlyphs">14 Nov 23:00</text></g>
<g opacity="0.999"><text x="709.17" y="559.20" font-size="9.6" fill="#000" stroke="#000" stroke-width="0.22" textLength="52.0" lengthAdjust="spacingAndGlyphs">15 Nov 15:00</text></g>
</svg></body></html>
